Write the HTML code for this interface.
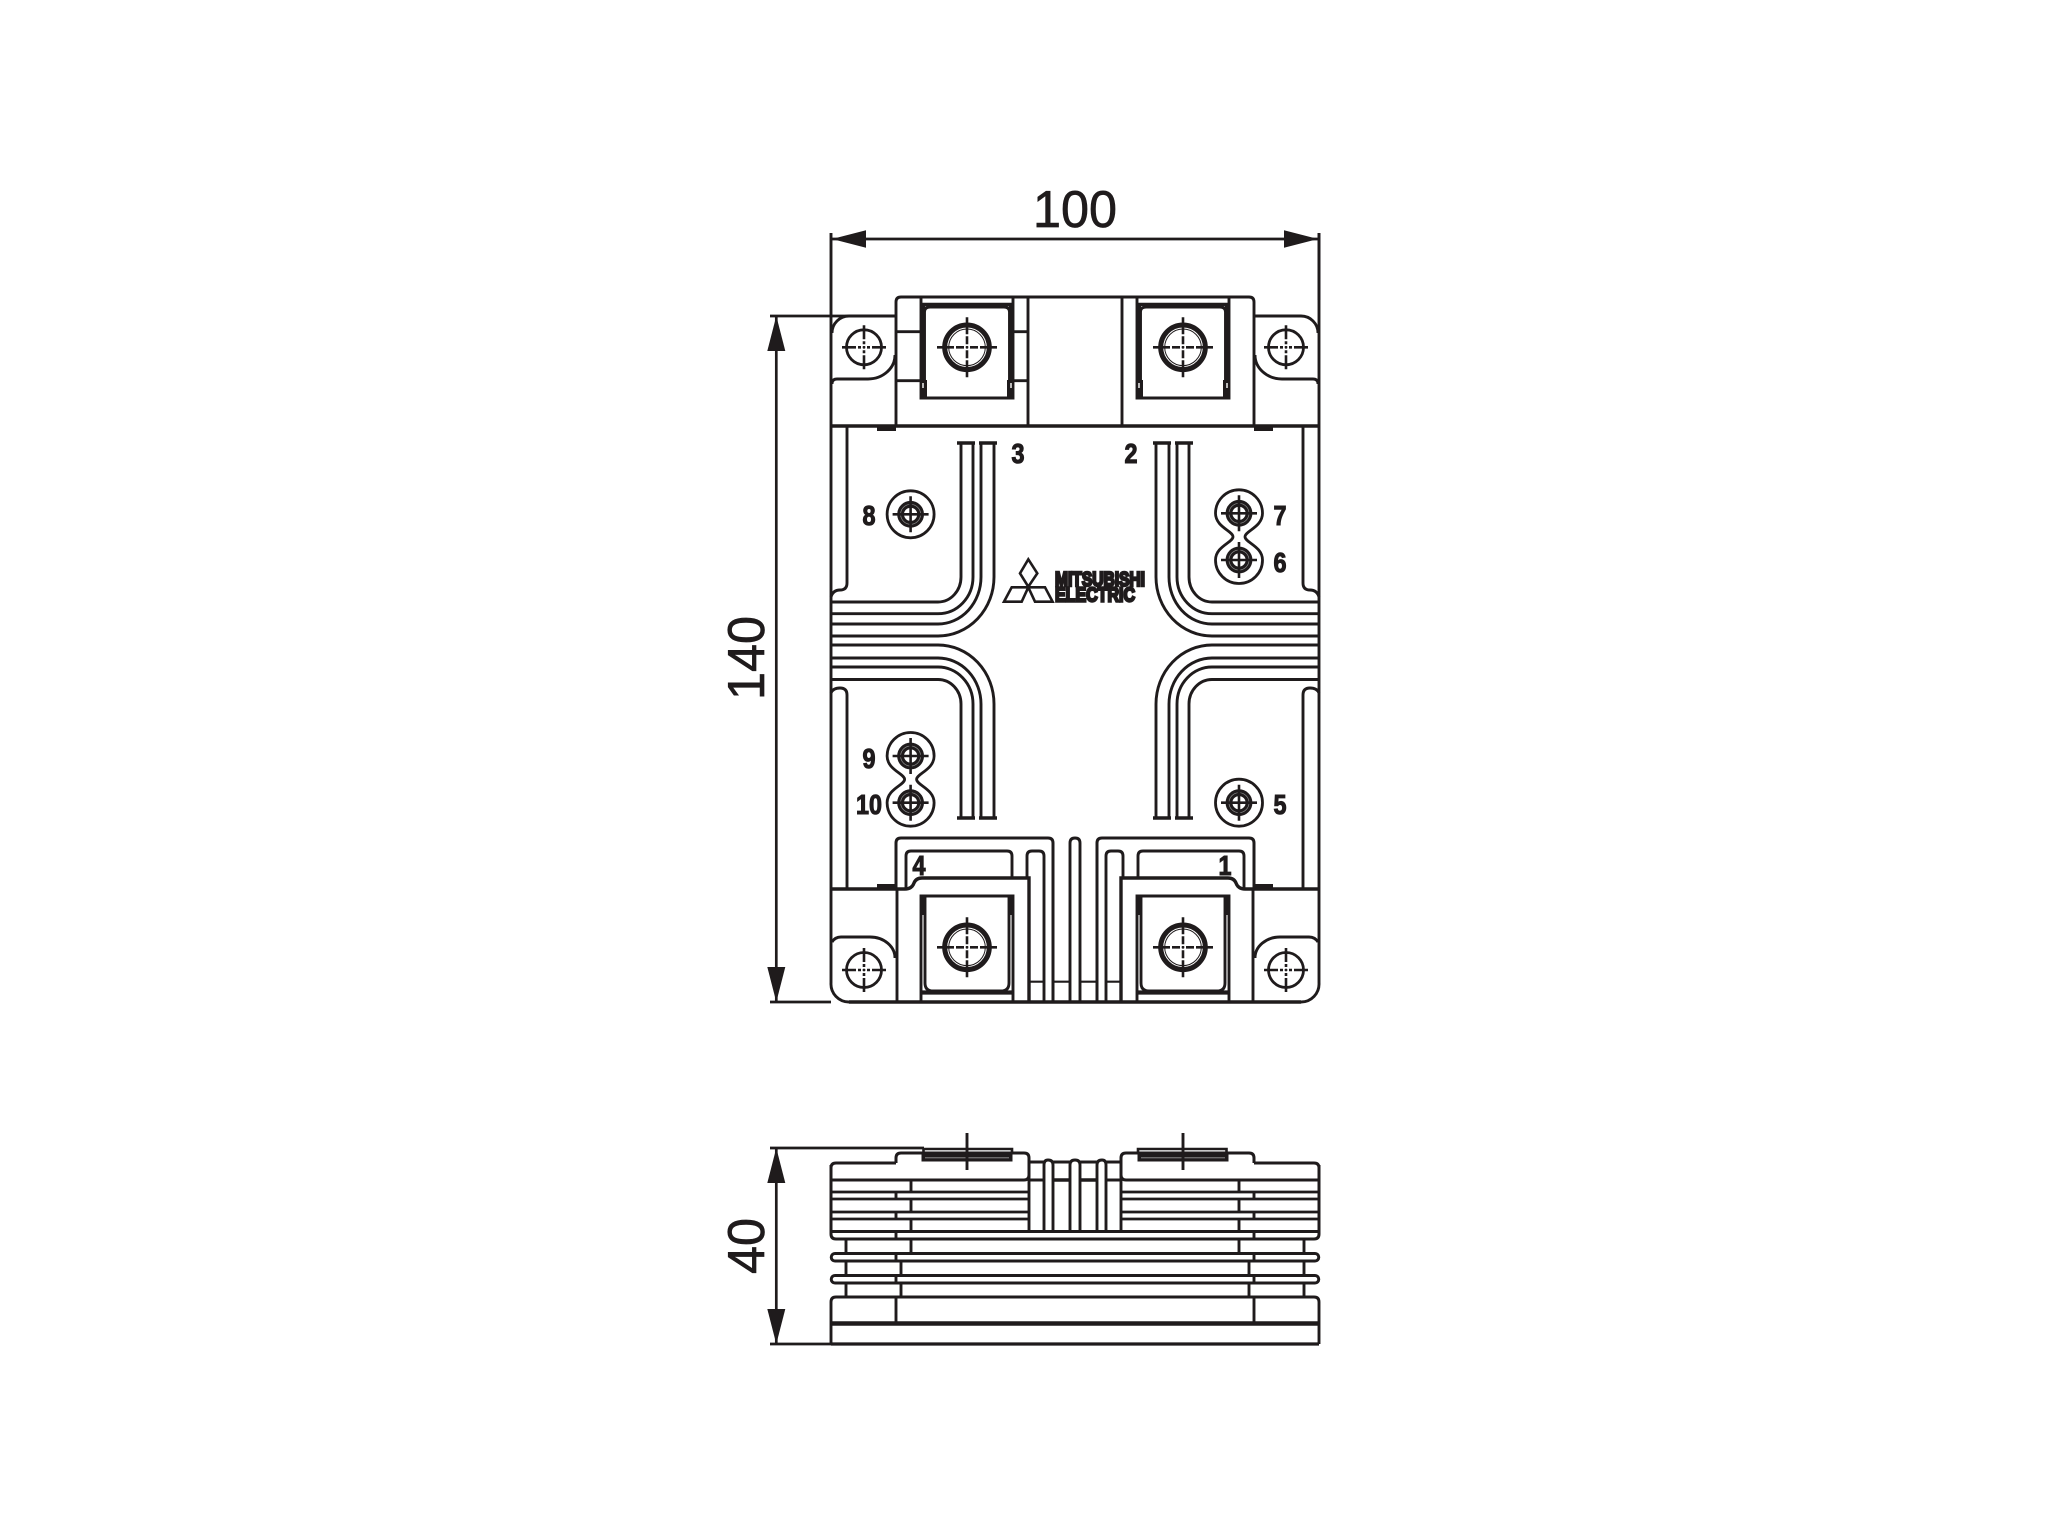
<!DOCTYPE html>
<html><head><meta charset="utf-8"><style>html,body{margin:0;padding:0;background:#fff}svg{display:block}text{font-family:"Liberation Sans",sans-serif;fill:#1f1b1c}.b{font-weight:bold;font-size:28px;text-anchor:middle;stroke:#1f1b1c;stroke-width:1.1}.d{font-size:52px;text-anchor:middle;stroke:#1f1b1c;stroke-width:.7}</style></head><body>
<svg xmlns="http://www.w3.org/2000/svg" width="2048" height="1536" viewBox="0 0 2048 1536">
<defs>
<g id="h" fill="none" stroke="#1f1b1c"><circle r="17.5" stroke-width="2.8"/><path d="M-22 0H22M0 -22V22" stroke-width="2.6" stroke-dasharray="14 2 3 2 2 2 3 2 14"/></g>
<g id="s" fill="none" stroke="#1f1b1c"><circle r="22.3" stroke-width="5"/><circle r="18.3" stroke-width="1"/><path d="M-30 0H30M0 -30V30" stroke-width="2.6" stroke-dasharray="17 2 8 2 2 2 8 2 17"/></g>
<g id="c" fill="none" stroke="#1f1b1c"><circle r="10" stroke-width="6.8"/><circle r="10" stroke="#888" stroke-width=".7"/><circle r="5.5" fill="#fff" stroke="none"/><path d="M-18 0H18M0 -18V18" stroke-width="2.6"/></g>
<g id="half" fill="none" stroke="#1f1b1c" stroke-width="2.9">
<path d="M831 233V983A18 18 0 0 0 849 1002"/>
<path d="M832 333A17 17 0 0 1 849 316H896"/>
<path d="M832 384Q832 379 837 379H868A27 24 0 0 0 895 355"/>
<path d="M896 426V302Q896 297 901 297H1075M1028 297V426"/>
<path d="M831 426H1075" stroke-width="3.4"/>
<rect x="877" y="426" width="19" height="5" fill="#1f1b1c" stroke="none"/>
<path d="M921 297V398H1013V297"/>
<path d="M924.5 398V312Q924.5 307 930 307H1004Q1009.5 307 1009.5 312V398"/>
<path d="M921 304.5H1013" stroke-width="3.6"/>
<rect x="920" y="304" width="5" height="94" fill="#1f1b1c" stroke="none"/><rect x="1009" y="304" width="5" height="94" fill="#1f1b1c" stroke="none"/>
<rect x="920" y="380" width="7" height="19" fill="#1f1b1c" stroke="none"/><rect x="1007" y="380" width="7" height="19" fill="#1f1b1c" stroke="none"/>
<path d="M923 383V388M1011 383V388" stroke="#fff" stroke-width="1.4"/>
<use href="#h" x="864" y="347.3"/><use href="#s" x="967" y="347.3"/>
<path d="M847 426V583Q847 590 840 590Q833 590 831 597"/>
<path d="M961 443V577A23 25 0 0 1 938 602H831M973 443V577A35 36.7 0 0 1 938 613.7H831M981 443V577A43 47 0 0 1 938 624H831M994 443V577A56 59 0 0 1 938 636H831"/>
<path d="M957 443H975M979 443H997" stroke-width="3.4"/>
<path d="M961 818V704A23 24.5 0 0 0 938 679.5H831M973 818V704A35 37 0 0 0 938 667H831M981 818V704A43 46 0 0 0 938 658H831M994 818V704A56 59 0 0 0 938 645H831"/>
<path d="M957 818H975M979 818H997" stroke-width="3.4"/>
<path d="M831 693Q833 688 840 688Q847 688 847 695V888"/>
<path d="M831 889H905Q912 889 914 883Q916 878 922 878H1029V1002" stroke-width="3.4"/>
<path d="M897 889V1002"/>
<rect x="877" y="884" width="19" height="5" fill="#1f1b1c" stroke="none"/>
<path d="M896 889V843Q896 838 901 838H1048Q1053 838 1053 843V1002" stroke-width="3"/>
<path d="M906 889V856Q906 851 911 851H1007Q1012 851 1012 856V878"/>
<path d="M1027 878V856Q1027 851 1032 851H1039Q1044 851 1044 856V1002"/>
<path d="M1070 1002V843Q1070 838 1075 838"/>
<path d="M1029 981.7H1044M1053 981.7H1070" stroke-width="2.2"/>
<path d="M921 1002V896H1013V1002"/>
<path d="M925 896V983Q925 991 933 991H1001Q1009 991 1009 983V896"/>
<path d="M921 992.5H1013" stroke-width="4.2"/>
<rect x="920" y="895" width="6" height="20" fill="#1f1b1c" stroke="none"/><rect x="1008" y="895" width="6" height="20" fill="#1f1b1c" stroke="none"/>
<path d="M832 942Q835 937 841 937H870A25 21 0 0 1 895 958"/>
<use href="#h" x="864" y="970"/><use href="#s" x="967" y="947.3"/>
<path d="M849 1002H1075" stroke-width="3.4"/>
<!-- side view -->
<path d="M831 1180V1168Q831 1163 836 1163H896"/>
<path d="M896 1163V1158Q896 1153 901 1153H1024Q1029 1153 1029 1158V1175Q1029 1180 1024 1180H831" stroke-width="3"/>
<path d="M831 1165V1234Q831 1239 836 1239H1075" stroke-width="3"/>
<path d="M831 1192H1029M831 1199H1029M831 1212H1029M831 1219H1029" stroke-width="2.8"/>
<path d="M831 1231.5H1075M1029 1175V1231M911 1180V1192M911 1199V1212M911 1219V1231M911 1239V1253M896 1192V1199M896 1212V1219M896 1231V1239M896 1253V1261M896 1275V1283M846 1239V1253M846 1261V1275M846 1283V1297M901 1261V1275M901 1283V1297"/>
<path d="M1075 1253.5H835A3.7 3.7 0 0 0 835 1261H1075M1075 1275.5H835A3.7 3.7 0 0 0 835 1283H1075" stroke-width="3"/>
<path d="M831 1344V1302Q831 1297 836 1297H1075M896 1297V1323"/>
<path d="M831 1323.5H1075" stroke-width="4.4"/>
<path d="M831 1344H1075" stroke-width="3.2"/>
<path d="M1044 1231V1165Q1044 1160 1048 1160Q1053 1160 1053 1165V1231M1070 1231V1165Q1070 1160 1075 1160M1029 1162H1044M1053 1162H1070M1029 1180H1044"/>
<path d="M1053 1180H1070" stroke-width="3.4"/>
<path d="M923.5 1153V1149H1012V1153" stroke-width="2.6"/>
<rect x="921.5" y="1154" width="91" height="7.5" fill="#1f1b1c" stroke="none"/>
<path d="M925 1157.8H1009" stroke="#999" stroke-width=".8"/>
<path d="M967 1133V1170"/>
</g>
</defs>
<rect width="2048" height="1536" fill="#fff"/>
<use href="#half"/>
<use href="#half" transform="matrix(-1 0 0 1 2150 0)"/>
<g fill="none" stroke="#1f1b1c" stroke-width="2.8">
<path d="M896 331.7H921M1013 331.7H1028M896 380.7H921M1013 380.7H1028"/>
<path d="M1319 233V300M770 316H896M770 1002H831M770 1148H924M770 1344H831"/>
<path d="M831 239H1319M776.3 316V1002M776.3 1148V1344" stroke-width="2.7"/>
<path d="M1028.3 559.3L1037.3 573.3L1028.3 586.7L1020 573.3ZM1004 601.7H1021.7L1028.3 587.3H1011.7ZM1052.6 601.7H1035L1028.3 587.3H1045Z" stroke-width="2.6"/>
<path d="M910.6 490.8A23.5 23.5 0 1 1 910.6 537.8A23.5 23.5 0 1 1 910.6 490.8Z"/>
<path d="M1239 779.2A23.5 23.5 0 1 1 1239 826.2A23.5 23.5 0 1 1 1239 779.2Z"/>
<path d="M1233 536.7C1233 531 1215.5 527 1215.5 513.3A23.5 23.5 0 0 1 1262.5 513.3C1262.5 527 1245 531 1245 536.7C1245 542.4 1262.5 546.4 1262.5 560A23.5 23.5 0 0 1 1215.5 560C1215.5 546.4 1233 542.4 1233 536.7Z"/>
<path d="M904.6 779.4C904.6 773.7 887.1 769.7 887.1 756A23.5 23.5 0 0 1 934.1 756C934.1 769.7 916.6 773.7 916.6 779.4C916.6 785.1 934.1 789.1 934.1 802.7A23.5 23.5 0 0 1 887.1 802.7C887.1 789.1 904.6 785.1 904.6 779.4Z"/>
</g>
<g fill="#1f1b1c">
<path d="M832 239L866 230.3V247.7Z"/><path d="M1318 239L1284 230.3V247.7Z"/>
<path d="M776.3 316L767.3 351H785.3Z"/><path d="M776.3 1002L767.3 967H785.3Z"/>
<path d="M776.3 1148L767.3 1183H785.3Z"/><path d="M776.3 1344L767.3 1309H785.3Z"/>
</g>
<use href="#c" x="910.6" y="514.3"/><use href="#c" x="1239" y="513.3"/><use href="#c" x="1239" y="560"/>
<use href="#c" x="910.6" y="756"/><use href="#c" x="910.6" y="802.7"/><use href="#c" x="1239" y="802.7"/>
<text class="d" x="1075" y="227" textLength="84" lengthAdjust="spacingAndGlyphs">100</text>
<text class="d" transform="translate(764 658) rotate(-90)" textLength="84" lengthAdjust="spacingAndGlyphs">140</text>
<text class="d" transform="translate(764 1246) rotate(-90)" textLength="56" lengthAdjust="spacingAndGlyphs">40</text>
<g>
<text class="b" x="1018" y="463" textLength="13" lengthAdjust="spacingAndGlyphs">3</text>
<text class="b" x="1131" y="463" textLength="13" lengthAdjust="spacingAndGlyphs">2</text>
<text class="b" x="869" y="525" textLength="13" lengthAdjust="spacingAndGlyphs">8</text>
<text class="b" x="1280" y="525" textLength="13" lengthAdjust="spacingAndGlyphs">7</text>
<text class="b" x="1280" y="572" textLength="13" lengthAdjust="spacingAndGlyphs">6</text>
<text class="b" x="869" y="768" textLength="13" lengthAdjust="spacingAndGlyphs">9</text>
<text class="b" x="869" y="814" textLength="26" lengthAdjust="spacingAndGlyphs">10</text>
<text class="b" x="1280" y="814" textLength="13" lengthAdjust="spacingAndGlyphs">5</text>
<text class="b" x="919" y="875" textLength="13" lengthAdjust="spacingAndGlyphs">4</text>
<text class="b" x="1225" y="875" textLength="13" lengthAdjust="spacingAndGlyphs">1</text>
</g>
<text x="1055" y="586" font-size="20" font-weight="bold" stroke="#1f1b1c" stroke-width="2.4" textLength="90" lengthAdjust="spacingAndGlyphs">MITSUBISHI</text>
<text x="1055" y="601.5" font-size="20" font-weight="bold" stroke="#1f1b1c" stroke-width="2.4" textLength="80" lengthAdjust="spacingAndGlyphs">ELECTRIC</text>
</svg>
</body></html>
